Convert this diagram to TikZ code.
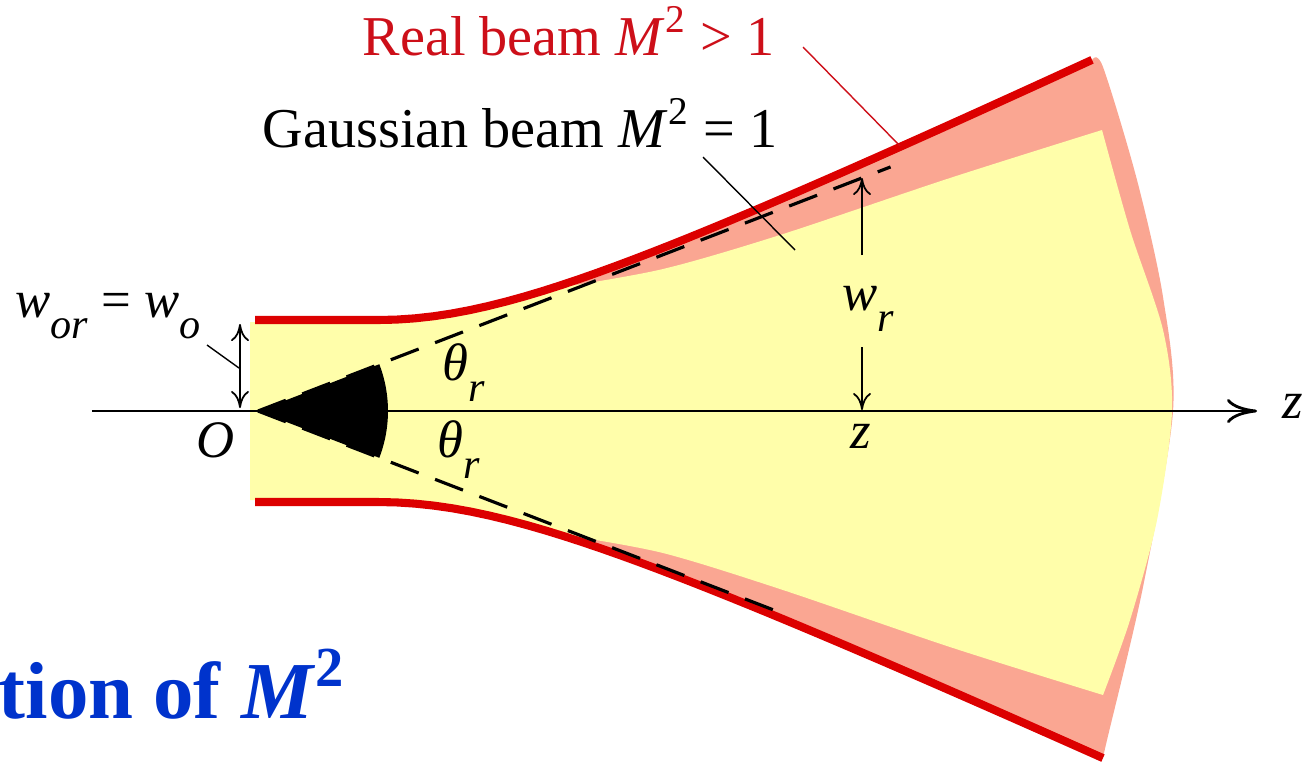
\documentclass[tikz,border=0pt]{standalone}
\usepackage{fontspec}
\setmainfont{Liberation Serif}
\usetikzlibrary{arrows.meta}
\definecolor{beamred}{RGB}{220,0,0}
\definecolor{beampink}{RGB}{250,166,146}
\definecolor{beamyellow}{RGB}{255,254,170}
\definecolor{labelred}{RGB}{205,15,25}
\definecolor{titleblue}{RGB}{0,51,204}
\newcommand{\lowsub}[1]{\raisebox{-0.4em}{\fontsize{12}{14}\selectfont\itshape #1}}

\begin{document}
\begin{tikzpicture}[
  lbl/.style={font=\fontsize{15}{18}\selectfont, inner sep=0pt, anchor=base west},
  leader/.style={line width=0.4pt},
  redline/.style={beamred, line width=2.3pt},
  dim/.style={line width=0.5pt, -{Computer Modern Rightarrow[length=1.7mm,width=1.8mm]}},
  dimboth/.style={line width=0.5pt, {Computer Modern Rightarrow[length=1.7mm,width=1.8mm]}-{Computer Modern Rightarrow[length=1.7mm,width=1.8mm]}},
  ]
  \useasboundingbox (-2.58,-3.50) rectangle (10.45,4.11);

  % Real beam envelope
  \fill[beampink] (-0.03,0.91) -- plot[domain=1.2:8.34, samples=40] (\x,{sqrt(0.8281+(0.475*(\x-1.2))^2)})
    -- plot[smooth] coordinates {(8.34,3.51) (8.45,3.44) (8.79,2.31) (9.05,1.14) (9.15,0) (8.85,-1.76) (8.49,-3.29) (8.45,-3.47)}
    -- plot[domain=8.45:1.2, samples=40] (\x,{-sqrt(0.8281+(0.462*(\x-1.2))^2)}) -- (-0.03,-0.91) -- cycle;

  % Gaussian beam
  \fill[beamyellow] (-0.08,0.89) -- (1.2,0.89)
    -- plot[domain=1.2:3.02, samples=15] (\x,{sqrt(0.8281+(0.475*(\x-1.2))^2)-0.02})
    -- plot[smooth] coordinates {(3.02,1.235) (4.05,1.42) (5.22,1.76) (6.92,2.33) (8.44,2.81)}
    -- plot[smooth] coordinates {(8.44,2.81) (8.72,1.81) (9.05,0.81) (9.14,0) (8.99,-1.09) (8.72,-2.09) (8.45,-2.84)}
    -- plot[smooth] coordinates {(8.45,-2.84) (6.92,-2.36) (5.22,-1.78) (4.05,-1.42) (3.1,-1.245)}
    -- plot[domain=3.1:1.2, samples=15] (\x,{-sqrt(0.8281+(0.462*(\x-1.2))^2)+0.02}) -- (-0.08,-0.89) -- cycle;

  % Red edges
  \draw[redline] (-0.03,0.91) -- plot[domain=1.2:8.34, samples=40] (\x,{sqrt(0.8281+(0.475*(\x-1.2))^2)});
  \draw[redline] (-0.03,-0.91) -- plot[domain=1.2:8.45, samples=40] (\x,{-sqrt(0.8281+(0.462*(\x-1.2))^2)});

  % Axis
  \coordinate (O) at (0,0);
  \coordinate (AxisStart) at (-1.66,0);
  \coordinate (AxisEnd) at (9.99,0);
  \draw[line width=0.8pt, -{Computer Modern Rightarrow[length=3mm,width=2.4mm]}] (AxisStart) -- (AxisEnd);

  % Divergence lines and angle
  \draw[line width=0.9pt, dash pattern=on 8.5pt off 5pt] (O) -- (21.1:6.78);
  \draw[line width=0.9pt, dash pattern=on 8.5pt off 5pt] (O) -- (-21.1:5.55);
  \fill (O) -- (21.1:1.30) arc[start angle=21.1, end angle=-21.1, radius=1.30] -- cycle;

  % Waist
  \coordinate (WoTop) at (-0.18,0.87);
  \coordinate (WoBot) at (-0.18,0.03);
  \draw[dimboth] (WoBot) -- (WoTop);
  \coordinate (WoFoot) at (-0.51,0.66);
  \coordinate (WoTip) at (-0.19,0.43);
  \draw[leader] (WoFoot) -- (WoTip);

  % Width at z
  \coordinate (WrUp) at (6.04,1.56);
  \coordinate (WrTip) at (6.04,2.33);
  \coordinate (WrDown) at (6.04,0.64);
  \coordinate (WrAxis) at (6.04,0.01);
  \draw[dim] (WrUp) -- (WrTip);
  \draw[dim] (WrDown) -- (WrAxis);

  % Leaders
  \coordinate (RealFoot) at (5.45,3.64);
  \coordinate (RealTip) at (6.42,2.65);
  \draw[leader, labelred] (RealFoot) -- (RealTip);
  \coordinate (GaussFoot) at (4.45,2.54);
  \coordinate (GaussTip) at (5.37,1.61);
  \draw[leader] (GaussFoot) -- (GaussTip);

  % Labels
  \node[lbl, text=labelred, font=\fontsize{16}{19}\selectfont] (RealLbl) at (1.04,3.56) {Real beam \textit{M}\textsuperscript{2} > 1};
  \node[lbl, font=\fontsize{16}{19}\selectfont] (GaussLbl) at (0.04,2.64) {Gaussian beam \textit{M}\textsuperscript{2} = 1};
  \node[lbl] (WoLbl) at (-2.43,0.94) {\textit{w}\lowsub{or} = \textit{w}\lowsub{o}};
  \node[lbl] (OLbl) at (-0.62,-0.46) {\textit{O}};
  \node[lbl] (ThUp) at (1.84,0.31) {\textit{θ}\lowsub{r}};
  \node[lbl] (ThDn) at (1.79,-0.46) {\textit{θ}\lowsub{r}};
  \node[lbl] (WrLbl) at (5.84,1.01) {\textit{w}\lowsub{r}};
  \node[lbl] (zLbl) at (5.92,-0.37) {\textit{z}};
  \node[lbl] (zAxis) at (10.24,-0.07) {\textit{z}};
  \node[lbl, text=titleblue, font=\fontsize{23}{27}\selectfont\bfseries] (Title) at (-2.60,-3.07) {tion of \textit{M}\textsuperscript{2}};
\end{tikzpicture}
\end{document}
